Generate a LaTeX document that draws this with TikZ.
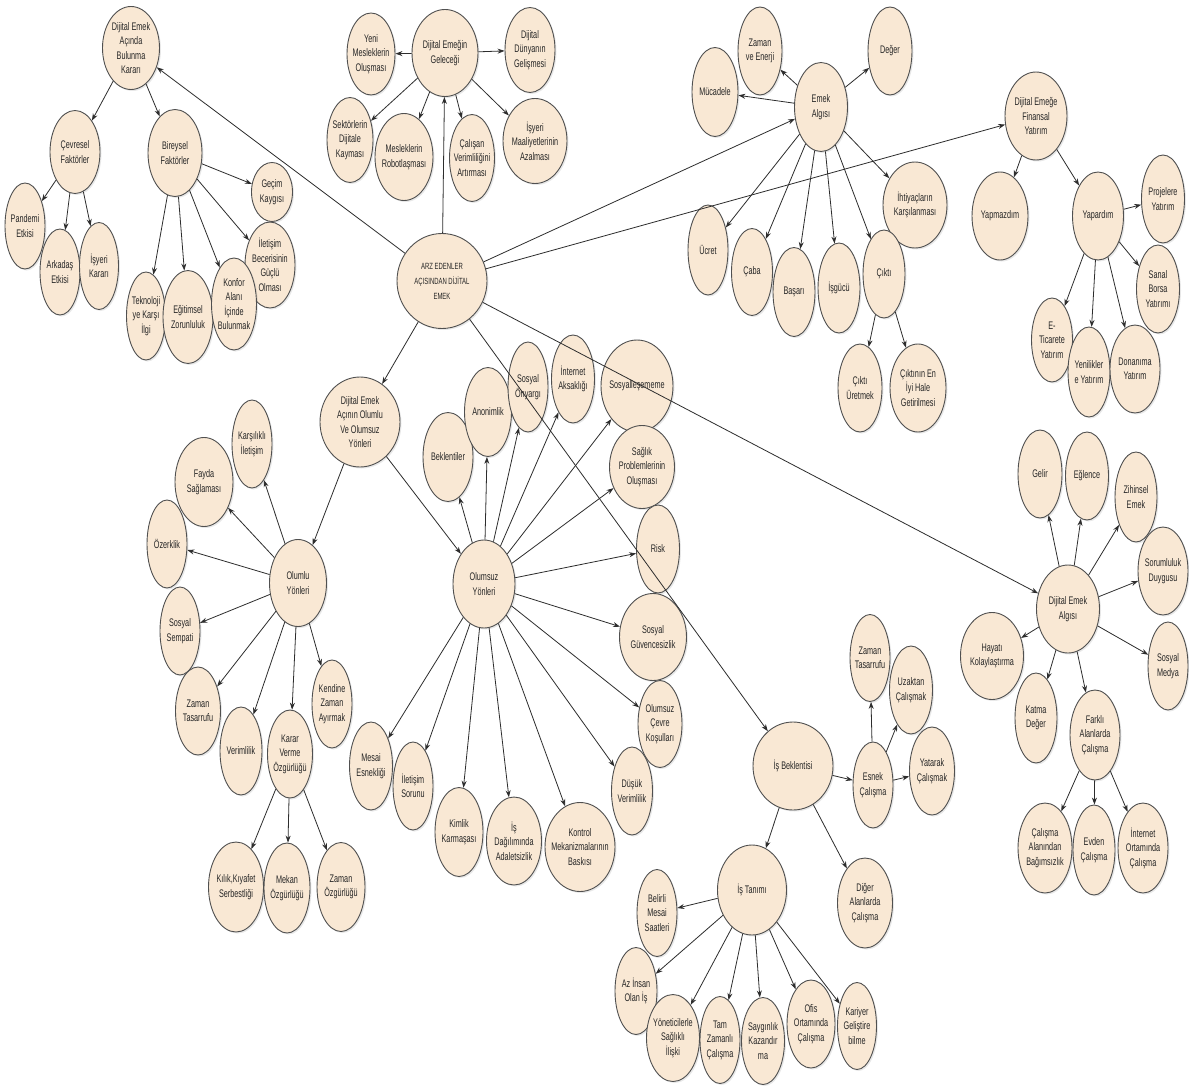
\documentclass[tikz,border=0pt]{standalone}
\usepackage{fontspec}
\setmainfont{Liberation Sans}[FakeStretch=0.66]
\usetikzlibrary{shapes.geometric,arrows.meta,shadows}
\definecolor{peach}{RGB}{249,232,212}
\definecolor{rim}{RGB}{80,80,80}
\definecolor{ln}{RGB}{45,45,45}
\tikzset{
 el/.style 2 args={ellipse, draw=rim, line width=0.9pt, fill=peach, minimum width=#1pt, minimum height=#2pt, inner sep=0pt,
   drop shadow={opacity=0.18,shadow xshift=1.5pt,shadow yshift=-1.5pt}},
 txt/.style={align=center, font=\fontsize{11}{14.5}\selectfont, inner sep=0pt, text=black!85},
 smalltxt/.style={align=center, font=\fontsize{9}{15}\selectfont, inner sep=0pt, text=black!85},
 arr/.style={draw=ln, line width=0.8pt, -{Stealth[length=7pt,width=5pt]}},
}
\newcommand\bub[6]{\node[el={#4}{#5},label={[txt]center:{#6}}] (#1) at (#2,-#3) {};}
\begin{document}
\begin{tikzpicture}[x=1pt,y=1pt]
\fill[white] (0,0) rectangle (1189,-1089);
\useasboundingbox (0,0) rectangle (1189,-1089);

% root
\node[el={90}{95},label={[smalltxt]center:{ARZ EDENLER\\AÇISINDAN DİJİTAL\\EMEK}}] (root) at (442,-281) {};

% top-left
\bub{kar}{131}{48}{57}{83}{Dijital Emek\\Açında\\Bulunma\\Kararı}
\bub{cev}{75}{152}{50}{83}{Çevresel\\Faktörler}
\bub{bir}{175}{153}{54}{87}{Bireysel\\Faktörler}
\bub{pan}{25}{226}{40}{86}{Pandemi\\Etkisi}
\bub{ark}{60}{272}{40}{86}{Arkadaş\\Etkisi}
\bub{isy}{99}{266}{39}{87}{İşyeri\\Kararı}
\bub{gec}{272}{192}{41}{59}{Geçim\\Kaygısı}
\bub{ilb}{270}{265}{50}{86}{İletişim\\Becerisinin\\Güçlü\\Olması}
\bub{tek}{146}{316}{39}{88}{Teknoloji\\ye Karşı\\İlgi}
\bub{egt}{188}{317}{50}{93}{Eğitimsel\\Zorunluluk}
\bub{kon}{234}{304}{45}{92}{Konfor\\Alanı\\İçinde\\Bulunmak}

% top-middle
\bub{gel}{445}{53}{66}{87}{Dijital Emeğin\\Geleceği}
\bub{yen}{371}{54}{48}{82}{Yeni\\Mesleklerin\\Oluşması}
\bub{dun}{530}{50}{50}{85}{Dijital\\Dünyanın\\Gelişmesi}
\bub{sek}{350}{140}{46}{85}{Sektörlerin\\Dijitale\\Kayması}
\bub{rob}{404}{157}{58}{87}{Mesleklerin\\Robotlaşması}
\bub{cal}{472}{158}{45}{87}{Çalışan\\Verimliliğini\\Artırması}
\bub{maa}{535}{141}{64}{85}{İşyeri\\Maaliyetlerinin\\Azalması}

% emek algisi
\bub{ema}{821}{107}{53}{89}{Emek\\Algısı}
\bub{zen}{760}{51}{44}{88}{Zaman\\ve Enerji}
\bub{muc}{715}{92}{46}{89}{Mücadele}
\bub{deg}{890}{51}{44}{88}{Değer}
\bub{iht}{915}{205}{64}{86}{İhtiyaçların\\Karşılanması}
\bub{ucr}{708}{250}{40}{90}{Ücret}
\bub{cab}{752}{272}{41}{87}{Çaba}
\bub{bas}{794}{292}{42}{89}{Başarı}
\bub{isg}{839}{288}{42}{90}{İşgücü}
\bub{cik}{884}{274}{42}{88}{Çıktı}
\bub{ciu}{860}{388}{44}{88}{Çıktı\\Üretmek}
\bub{cie}{918}{388}{56}{88}{Çıktının En\\İyi Hale\\Getirilmesi}

% finansal
\bub{fin}{1036}{116}{62}{88}{Dijital Emeğe\\Finansal\\Yatırım}
\bub{ypm}{1000}{216}{56}{88}{Yapmazdım}
\bub{ypr}{1098}{216}{51}{88}{Yapardım}
\bub{pro}{1163}{199}{43}{88}{Projelere\\Yatırım}
\bub{san}{1158}{289}{43}{88}{Sanal\\Borsa\\Yatırımı}
\bub{eti}{1052}{340}{41}{84}{E-\\Ticarete\\Yatırım}
\bub{yni}{1089}{372}{42}{90}{Yenilikler\\e Yatırım}
\bub{don}{1135}{369}{50}{88}{Donanıma\\Yatırım}

% dijital emek algisi
\bub{dea}{1068}{609}{63}{88}{Dijital Emek\\Algısı}
\bub{glr}{1040}{474}{44}{88}{Gelir}
\bub{egl}{1087}{476}{43}{88}{Eğlence}
\bub{zih}{1136}{497}{42}{90}{Zihinsel\\Emek}
\bub{sor}{1163}{571}{50}{88}{Sorumluluk\\Duygusu}
\bub{som}{1168}{666}{40}{88}{Sosyal\\Medya}
\bub{hay}{992}{656}{63}{87}{Hayatı\\Kolaylaştırma}
\bub{kat}{1036}{718}{42}{90}{Katma\\Değer}
\bub{far}{1095}{735}{50}{90}{Farklı\\Alanlarda\\Çalışma}
\bub{caa}{1045}{848}{54}{90}{Çalışma\\Alanından\\Bağımsızlık}
\bub{evd}{1094}{850}{42}{90}{Evden\\Çalışma}
\bub{ino}{1143}{848}{50}{90}{İnternet\\Ortamında\\Çalışma}

% olumlu
\bub{yon}{360}{422}{80}{90}{Dijital Emek\\Açının Olumlu\\Ve Olumsuz\\Yönleri}
\bub{olu}{298}{583}{57}{87}{Olumlu\\Yönleri}
\bub{kil}{252}{444}{40}{88}{Karşılıklı\\İletişim}
\bub{fay}{204}{482}{58}{89}{Fayda\\Sağlaması}
\bub{oze}{167}{544}{40}{88}{Özerklik}
\bub{sse}{180}{631}{40}{88}{Sosyal\\Sempati}
\bub{zta}{198}{711}{45}{88}{Zaman\\Tasarrufu}
\bub{ver}{241}{751}{42}{88}{Verimlilik}
\bub{kvo}{290}{754}{45}{88}{Karar\\Verme\\Özgürlüğü}
\bub{kza}{332}{704}{40}{88}{Kendine\\Zaman\\Ayırmak}
\bub{kkf}{236}{887}{55}{90}{Kılık,Kıyafet\\Serbestliği}
\bub{mek}{287}{888}{46}{90}{Mekan\\Özgürlüğü}
\bub{zoz}{341}{887}{48}{89}{Zaman\\Özgürlüğü}

% olumsuz
\bub{ols}{484}{584}{62}{88}{Olumsuz\\Yönleri}
\bub{bek}{448}{457}{50}{89}{Beklentiler}
\bub{ano}{488}{412}{47}{89}{Anonimlik}
\bub{son}{528}{387}{40}{90}{Sosyal\\Önyargı}
\bub{ina}{573}{379}{43}{88}{İnternet\\Aksaklığı}
\bub{sos}{637}{386}{72}{92}{Sosyalleşememe}
\bub{sag}{642}{467}{65}{83}{Sağlık\\Problemlerinin\\Oluşması}
\bub{rsk}{658}{549}{43}{88}{Risk}
\bub{sgv}{653}{637}{67}{87}{Sosyal\\Güvencesizlik}
\bub{oce}{660}{724}{44}{87}{Olumsuz\\Çevre\\Koşulları}
\bub{dus}{632}{791}{41}{88}{Düşük\\Verimlilik}
\bub{ktr}{580}{847}{70}{89}{Kontrol\\Mekanizmalarının\\Baskısı}
\bub{isd}{514}{841}{55}{88}{İş\\Dağılımında\\Adaletsizlik}
\bub{kim}{459}{832}{48}{89}{Kimlik\\Karmaşası}
\bub{ils}{413}{786}{40}{88}{İletişim\\Sorunu}
\bub{mes}{371}{766}{43}{88}{Mesai\\Esnekliği}

% is beklentisi
\bub{isb}{793}{766}{80}{88}{İş Beklentisi}
\bub{esn}{873}{785}{40}{86}{Esnek\\Çalışma}
\bub{ztb}{870}{658}{40}{87}{Zaman\\Tasarrufu}
\bub{uza}{911}{690}{43}{88}{Uzaktan\\Çalışmak}
\bub{yat}{932}{771}{45}{88}{Yatarak\\Çalışmak}
\bub{dig}{865}{903}{55}{90}{Diğer\\Alanlarda\\Çalışma}
\bub{ist}{752}{890}{69}{90}{İş Tanımı}
\bub{bel}{657}{913}{40}{87}{Belirli\\Mesai\\Saatleri}
\bub{azi}{636}{991}{42}{87}{Az İnsan\\Olan İş}
\bub{ysi}{673}{1038}{53}{87}{Yöneticilerle\\Sağlıklı\\İlişki}
\bub{tzc}{720}{1040}{40}{87}{Tam\\Zamanlı\\Çalışma}
\bub{say}{763}{1041}{43}{87}{Saygınlık\\Kazandır\\ma}
\bub{ofi}{811}{1024}{48}{88}{Ofis\\Ortamında\\Çalışma}
\bub{kgb}{857}{1026}{39}{87}{Kariyer\\Geliştire\\bilme}

% edges
\foreach \t in {kar,gel,ema,fin,dea,yon,isb} \draw[arr] (root) -- (\t);
\foreach \t in {cev,bir} \draw[arr] (kar) -- (\t);
\foreach \t in {pan,ark,isy} \draw[arr] (cev) -- (\t);
\foreach \t in {gec,ilb,tek,egt,kon} \draw[arr] (bir) -- (\t);
\foreach \t in {yen,dun,sek,rob,cal,maa} \draw[arr] (gel) -- (\t);
\foreach \t in {zen,muc,deg,iht,ucr,cab,bas,isg,cik} \draw[arr] (ema) -- (\t);
\foreach \t in {ciu,cie} \draw[arr] (cik) -- (\t);
\foreach \t in {ypm,ypr} \draw[arr] (fin) -- (\t);
\foreach \t in {pro,san,eti,yni,don} \draw[arr] (ypr) -- (\t);
\foreach \t in {glr,egl,zih,sor,som,hay,kat,far} \draw[arr] (dea) -- (\t);
\foreach \t in {caa,evd,ino} \draw[arr] (far) -- (\t);
\foreach \t in {olu,ols} \draw[arr] (yon) -- (\t);
\foreach \t in {kil,fay,oze,sse,zta,ver,kvo,kza} \draw[arr] (olu) -- (\t);
\foreach \t in {kkf,mek,zoz} \draw[arr] (kvo) -- (\t);
\foreach \t in {bek,ano,son,ina,sos,sag,rsk,sgv,oce,dus,ktr,isd,kim,ils,mes} \draw[arr] (ols) -- (\t);
\foreach \t in {esn,ist,dig} \draw[arr] (isb) -- (\t);
\foreach \t in {ztb,uza,yat} \draw[arr] (esn) -- (\t);
\foreach \t in {bel,azi,ysi,tzc,say,ofi,kgb} \draw[arr] (ist) -- (\t);
\end{tikzpicture}
\end{document}
